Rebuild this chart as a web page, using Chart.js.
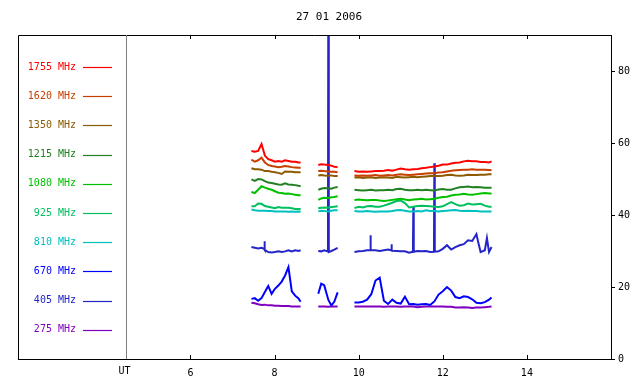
<!DOCTYPE html>
<html>
<head>
<meta charset="utf-8">
<script src="https://cdn.jsdelivr.net/npm/chart.js@4.4.1/dist/chart.umd.min.js"></script>
<style>
  html, body { margin: 0; padding: 0; background: #fff; }
  #wrap { width: 640px; height: 384px; }
</style>
</head>
<body>
<div id="wrap"><canvas id="radio"></canvas></div>
<script>
// data (UT hours, flux units)
var titleText = '27 01 2006';
var xTicks = [6, 8, 10, 12, 14];
var yTicks = [0, 20, 40, 60, 80];
var utHour = 4.47;
var freqLabels = ['1755 MHz', '1620 MHz', '1350 MHz', '1215 MHz', '1080 MHz',
                  '925 MHz', '810 MHz', '670 MHz', '405 MHz', '275 MHz'];

// shared time axis, null rows are the data gaps
var hours = [7.45, 7.53, 7.61, 7.69, 7.77, 7.85, 7.93, 8.01, 8.09, 8.17, 8.25, 8.33, 8.41, 8.49, 8.57, 8.62,
  8.8,
  9.04, 9.11, 9.18, 9.28, 9.35, 9.42, 9.50,
  9.7,
  9.9, 10.0, 10.1, 10.2, 10.3, 10.4, 10.5, 10.6, 10.7, 10.8, 10.9, 11.0, 11.1, 11.2, 11.3, 11.4, 11.5,
  11.6, 11.7, 11.8, 11.9, 12.0, 12.1, 12.2, 12.3, 12.4, 12.5, 12.6, 12.7, 12.8, 12.9, 13.0, 13.1, 13.16];

var mhz1755 = [57.8, 57.6, 57.8, 59.7, 56.5, 55.5, 55.2, 54.8, 55.0, 54.8, 55.2, 55.0, 54.8, 54.8, 54.6, 54.6, null,
  53.9, 54.1, 54.0, 53.9, 53.7, 53.4, 53.3, null,
  52.2, 52.0, 52.1, 52.0, 52.1, 52.2, 52.2, 52.3, 52.5, 52.3, 52.6, 52.9, 52.7, 52.6, 52.7, 52.8, 53.0,
  53.1, 53.3, 53.5, 53.7, 54.0, 54.0, 54.3, 54.5, 54.6, 54.9, 55.1, 54.9, 54.9, 54.7, 54.7, 54.6, 54.9];
var mhz1620 = [55.4, 54.8, 55.2, 55.9, 54.6, 53.9, 53.6, 53.5, 53.3, 53.4, 53.6, 53.5, 53.3, 53.2, 53.1, 53.1, null,
  52.2, 52.3, 52.2, 52.1, 52.0, 52.0, 51.9, null,
  51.0, 50.9, 51.0, 50.9, 51.0, 51.1, 50.9, 51.0, 51.1, 51.0, 51.2, 51.3, 51.2, 51.1, 51.2, 51.3, 51.4,
  51.5, 51.6, 51.6, 51.8, 51.9, 52.1, 52.3, 52.4, 52.5, 52.6, 52.6, 52.7, 52.6, 52.6, 52.6, 52.5, 52.4];
var mhz1350 = [53.0, 52.7, 52.7, 52.6, 52.2, 52.2, 52.0, 51.9, 51.7, 51.4, 52.1, 52.0, 52.0, 51.9, 51.9, 51.9, null,
  51.0, 51.1, 51.0, 50.9, 51.0, 50.8, 50.8, null,
  50.4, 50.5, 50.3, 50.4, 50.5, 50.3, 50.4, 50.5, 50.4, 50.3, 50.6, 50.5, 50.4, 50.5, 50.6, 50.5, 50.6,
  50.7, 50.8, 50.8, 50.8, 50.9, 51.1, 51.2, 51.0, 50.9, 51.0, 51.2, 51.1, 51.1, 51.2, 51.2, 51.3, 51.3];
var mhz1215 = [49.9, 49.5, 50.0, 49.9, 49.4, 49.0, 48.9, 48.7, 48.5, 48.4, 48.8, 48.5, 48.4, 48.3, 48.1, 48.0, null,
  47.0, 47.3, 47.5, 47.4, 47.3, 47.6, 47.8, null,
  47.0, 46.9, 46.8, 46.9, 47.0, 46.8, 46.9, 46.9, 47.0, 46.9, 47.2, 47.3, 47.0, 46.9, 46.9, 47.0, 46.9,
  47.0, 46.9, 46.8, 47.1, 47.2, 47.0, 47.0, 47.4, 47.7, 47.8, 47.9, 47.7, 47.8, 47.7, 47.6, 47.6, 47.6];
var mhz1080 = [46.4, 46.1, 47.0, 48.0, 47.6, 47.3, 47.0, 46.6, 46.2, 46.1, 45.9, 46.0, 45.8, 45.6, 45.5, 45.5, null,
  44.2, 44.6, 44.8, 44.7, 44.9, 45.0, 45.2, null,
  44.2, 44.3, 44.2, 44.1, 44.2, 44.2, 44.0, 43.9, 44.0, 44.2, 44.4, 44.5, 44.3, 44.1, 44.3, 44.4, 44.5,
  44.3, 44.4, 44.5, 44.8, 45.0, 45.1, 45.4, 45.6, 45.7, 45.9, 45.7, 45.6, 45.8, 46.0, 46.1, 46.0, 46.0];
var mhz925 = [42.4, 42.4, 43.2, 43.1, 42.5, 42.3, 42.1, 41.9, 42.2, 42.0, 42.0, 42.0, 41.9, 41.7, 41.7, 41.7, null,
  41.9, 42.0, 42.1, 42.0, 42.2, 42.3, 42.4, null,
  41.9, 42.3, 42.1, 42.4, 42.5, 42.3, 42.3, 42.6, 43.0, 43.4, 43.9, 44.0, 43.3, 42.1, 42.3, 42.5, 42.6,
  42.5, 42.4, 42.3, 42.2, 42.4, 43.0, 43.6, 43.0, 42.6, 42.7, 43.2, 42.9, 43.0, 43.1, 42.6, 42.3, 42.3];
var mhz810 = [41.5, 41.3, 41.2, 41.2, 41.2, 41.1, 41.1, 41.0, 41.0, 41.0, 41.0, 40.9, 41.0, 40.9, 41.0, 40.9, null,
  41.0, 41.2, 41.1, 41.0, 41.2, 41.3, 41.3, null,
  41.1, 41.0, 41.0, 41.1, 41.0, 40.9, 41.0, 41.0, 41.0, 41.1, 41.3, 41.4, 41.2, 41.0, 41.0, 41.1, 41.0,
  41.3, 41.1, 41.1, 41.0, 41.1, 41.2, 41.3, 41.4, 41.2, 41.1, 41.2, 41.1, 41.1, 41.0, 41.0, 41.0, 41.0];
var mhz670 = [16.7, 16.9, 16.2, 16.9, 18.6, 20.3, 18.1, 19.5, 20.4, 21.5, 23.2, 25.5, 18.8, 17.6, 16.8, 15.9, null,
  18.1, 20.9, 20.5, 16.4, 14.9, 15.9, 18.5, null,
  15.7, 15.7, 15.9, 16.5, 18.0, 21.8, 22.6, 16.2, 15.3, 16.5, 15.6, 15.4, 17.3, 15.2, 15.3, 15.1, 15.2,
  15.3, 15.0, 16.0, 17.9, 18.8, 20.0, 19.0, 17.2, 16.9, 17.4, 17.2, 16.6, 15.6, 15.5, 15.8, 16.5, 17.1];
var mhz275 = [15.6, 15.5, 15.2, 15.0, 15.1, 14.9, 14.9, 14.8, 14.8, 14.7, 14.7, 14.7, 14.6, 14.6, 14.6, 14.6, null,
  14.6, 14.6, 14.6, 14.5, 14.6, 14.6, 14.6, null,
  14.6, 14.6, 14.6, 14.6, 14.6, 14.6, 14.6, 14.5, 14.6, 14.6, 14.6, 14.5, 14.6, 14.6, 14.6, 14.4, 14.5,
  14.6, 14.6, 14.6, 14.6, 14.6, 14.5, 14.5, 14.3, 14.3, 14.4, 14.3, 14.2, 14.3, 14.3, 14.4, 14.5, 14.6];

// 405 MHz has its own sampling because of the short spikes
var hours405 = [7.45, 7.53, 7.61, 7.69, 7.75, 7.76, 7.77, 7.85, 7.93, 8.01, 8.09, 8.17, 8.25, 8.33, 8.41, 8.49, 8.57, 8.62,
  8.8,
  9.04, 9.11, 9.18, 9.27, 9.28, 9.29, 9.35, 9.42, 9.50,
  9.7,
  9.9, 10.0, 10.1, 10.2, 10.27, 10.28, 10.29, 10.4, 10.5, 10.6, 10.7, 10.77, 10.78, 10.79, 10.9, 11.0, 11.1, 11.2,
  11.29, 11.30, 11.31, 11.4, 11.5, 11.6, 11.7, 11.79, 11.80, 11.81, 11.9, 12.0, 12.1, 12.2, 12.3, 12.4, 12.5,
  12.6, 12.7, 12.8, 12.85, 12.9, 13.0, 13.05, 13.1, 13.16];
var mhz405 = [31.1, 30.9, 30.7, 30.9, 30.6, 32.7, 30.3, 29.7, 29.6, 29.7, 29.9, 29.7, 29.9, 30.2, 29.9, 30.2, 30.0, 30.2,
  null,
  30.0, 29.9, 30.2, 29.9, 120, 29.7, 30.0, 30.4, 30.9,
  null,
  29.7, 29.9, 30.0, 30.2, 30.2, 34.4, 30.2, 30.2, 30.0, 30.2, 30.4, 30.2, 31.9, 30.1, 30.0, 29.9, 29.9, 29.5,
  29.8, 42.3, 29.8, 30.0, 29.9, 30.0, 29.7, 29.8, 54.4, 29.8, 29.9, 30.6, 31.6, 30.4, 31.1, 31.6, 31.9,
  33.0, 32.8, 34.7, 32.1, 29.7, 30.2, 33.6, 29.7, 31.1];

var colors = ['#ff0000', '#c84000', '#8c5a00', '#228022', '#00c000',
              '#00c060', '#00c0c0', '#0000ff', '#2424c8', '#8000c0'];

var series = [mhz1755, mhz1620, mhz1350, mhz1215, mhz1080, mhz925, mhz810, mhz670, mhz405, mhz275];
var monoFont = '"DejaVu Sans Mono", monospace';

function toPoints(xs, ys) {
    return xs.map(function(h, i) { return { x: h, y: ys[i] }; });
}

var datasets = series.map(function(vals, i) {
    var xs = (vals === mhz405) ? hours405 : hours;
    return {
        label: freqLabels[i],
        data: toPoints(xs, vals),
        borderColor: colors[i],
        borderWidth: 2,
        pointRadius: 0,
        spanGaps: false,
        tension: 0
    };
});

// frame, inward ticks, UT marker, frequency legend and title
var decor = {
    id: 'decor',
    afterDraw: function(chart) {
        var ctx = chart.ctx, a = chart.chartArea, x = chart.scales.x;
        ctx.save();
        ctx.strokeStyle = '#000';
        ctx.lineWidth = 1;
        ctx.beginPath();
        ctx.moveTo(a.left + 0.5, a.bottom);
        ctx.lineTo(a.left + 0.5, a.top + 0.5);
        ctx.lineTo(a.right, a.top + 0.5);
        xTicks.forEach(function(v) {
            var px = Math.round(x.getPixelForValue(v)) + 0.5;
            ctx.moveTo(px, a.top);
            ctx.lineTo(px, a.top + 4);
            ctx.moveTo(px, a.bottom);
            ctx.lineTo(px, a.bottom - 4);
        });
        ctx.stroke();

        var ux = Math.round(x.getPixelForValue(utHour)) + 0.5;
        ctx.strokeStyle = '#808080';
        ctx.beginPath();
        ctx.moveTo(ux, a.top);
        ctx.lineTo(ux, a.bottom);
        ctx.stroke();

        ctx.font = '10px ' + monoFont;
        ctx.fillStyle = '#000';
        ctx.textAlign = 'center';
        ctx.textBaseline = 'middle';
        ctx.fillText('UT', ux - 2, a.bottom + 12);

        ctx.font = '11px ' + monoFont;
        ctx.fillText(titleText, chart.width / 2 + 9, 17);

        ctx.font = '10px ' + monoFont;
        ctx.textAlign = 'right';
        freqLabels.forEach(function(lab, i) {
            var yy = a.top + 32 + i * 29.2;
            ctx.fillStyle = colors[i];
            ctx.fillText(lab, a.left + 58, yy);
            ctx.strokeStyle = colors[i];
            ctx.lineWidth = 1.2;
            ctx.beginPath();
            ctx.moveTo(a.left + 65, Math.round(yy) + 0.5);
            ctx.lineTo(a.left + 94, Math.round(yy) + 0.5);
            ctx.stroke();
        });
        ctx.restore();
    }
};

new Chart(document.getElementById('radio').getContext('2d'), {
    type: 'line',
    data: { datasets: datasets },
    plugins: [decor],
    options: {
        responsive: true,
        maintainAspectRatio: false,
        animation: false,
        layout: { padding: { left: 18, top: 35, right: 0, bottom: 0 } },
        plugins: {
            legend: { display: false },
            tooltip: { enabled: false },
            title: { display: false }
        },
        scales: {
            x: {
                type: 'linear',
                min: 1.9,
                max: 16,
                afterBuildTicks: function(s) { s.ticks = xTicks.map(function(v) { return { value: v }; }); },
                afterFit: function(s) { s.height = 25; },
                grid: { display: false, drawTicks: false },
                border: { display: true, color: '#000', width: 1 },
                ticks: { color: '#000', padding: 8, maxRotation: 0, font: { family: monoFont, size: 10 } }
            },
            y: {
                position: 'right',
                min: 0,
                max: 90,
                afterBuildTicks: function(s) { s.ticks = yTicks.map(function(v) { return { value: v }; }); },
                afterFit: function(s) { s.width = 29; },
                grid: { display: true, drawOnChartArea: false, drawTicks: true, tickLength: 4, color: '#000' },
                border: { display: true, color: '#000', width: 1 },
                ticks: { color: '#000', padding: 3, font: { family: monoFont, size: 10 } }
            }
        }
    }
});
</script>
</body>
</html>
